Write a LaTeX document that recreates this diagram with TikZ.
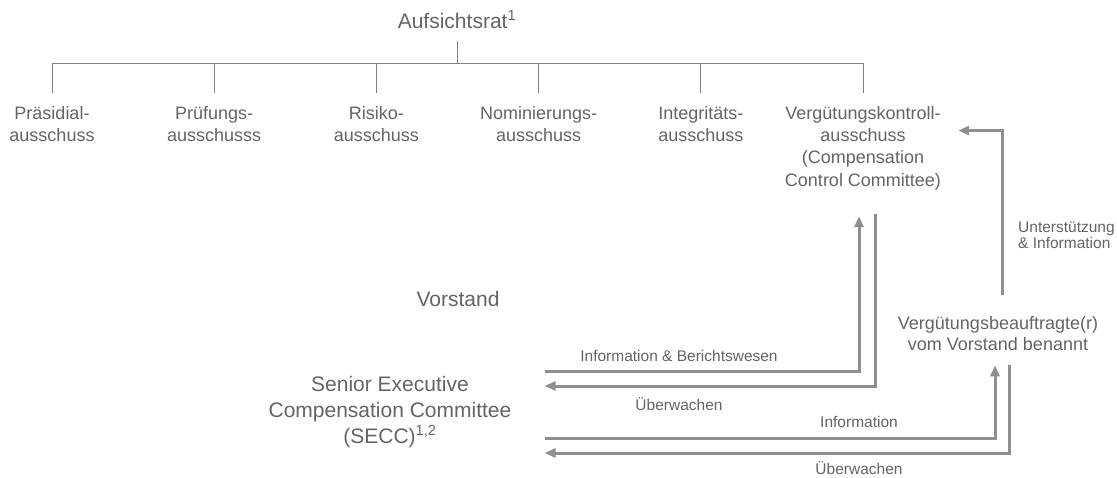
\documentclass[tikz,border=0pt]{standalone}
\usepackage{fontspec}
\setmainfont{Liberation Sans}
\usepackage{tikz}
\usetikzlibrary{arrows.meta}
\definecolor{textgray}{RGB}{100,100,100}
\definecolor{linegray}{RGB}{128,128,128}
\definecolor{arrowgray}{RGB}{143,143,143}

\begin{document}
\begin{tikzpicture}[
   x=1pt, y=-1pt,
   every node/.style={text=textgray, align=center},
   big/.style={font=\fontsize{21}{26}\selectfont},
   comm/.style={font=\fontsize{18}{22.3}\selectfont, anchor=north, inner ysep=13pt, inner xsep=17pt},
   mid/.style={font=\fontsize{18}{21}\selectfont, inner ysep=14pt},
   small/.style={font=\fontsize{15.5}{16}\selectfont, inner sep=0pt},
   tree/.style={draw=linegray, line width=1pt},
   flow/.style={draw=arrowgray, line width=3pt, -{Triangle[length=11pt,width=9pt]}}
]
   \useasboundingbox (0,0) rectangle (1117,477);
   \node[big, anchor=south, inner ysep=12.5pt] (auf) at (457,41) {Aufsichtsrat\textsuperscript{1}};
   \foreach \i/\txt in {1/{Präsidial-\\ausschuss}, 2/{Prüfungs-\\ausschusss},
      3/{Risiko-\\ausschuss}, 4/{Nominierungs-\\ausschuss}, 5/{Integritäts-\\ausschuss},
      6/{Vergütungskontroll-\\ausschuss\\(Compensation\\Control Committee)}}
      \node[comm] (c\i) at ({52+162.2*(\i-1)},93) {\txt};
   \node[big] (vorstand) at (458,299) {Vorstand};
   \node[big, inner xsep=33pt] (secc) at (390,412) {Senior Executive\\Compensation Committee\\(SECC)\textsuperscript{1,2}};
   \node[mid] (vb) at (998,334) {Vergütungsbeauftragte(r)\\vom Vorstand benannt};

   \draw[tree] (auf.south) -- ++(0,22) coordinate (fork);
   \draw[tree] (c1.north) |- (fork -| c6.north) -- (c6.north);
   \foreach \i in {2,...,5}
      \draw[tree] (c\i.north) -- (c\i.north |- fork);

   \draw[flow] ([yshift=41pt]secc.east) -| ([xshift=-4pt,yshift=-13pt]c6.south);
   \draw[flow] ([xshift=12pt,yshift=-11pt]c6.south) |- ([yshift=26pt]secc.east);
   \draw[flow] ([yshift=-26pt]secc.east) -| ([xshift=-3pt]vb.south);
   \draw[flow] ([xshift=11pt]vb.south) |- ([yshift=-41pt]secc.east);
   \draw[flow] ([xshift=4pt,yshift=8pt]vb.north) |- ([yshift=17.5pt]c6.east);

   \node[small] (info1) at (679,356) {Information \& Berichtswesen};
   \node[small] (watch1) at (679,404) {Überwachen};
   \node[small] (info2) at (859,422) {Information};
   \node[small] (watch2) at (859,468) {Überwachen};
   \node[small, anchor=west, align=left] (support) at (1018,235) {Unterstützung\\\& Information};
\end{tikzpicture}
\end{document}
